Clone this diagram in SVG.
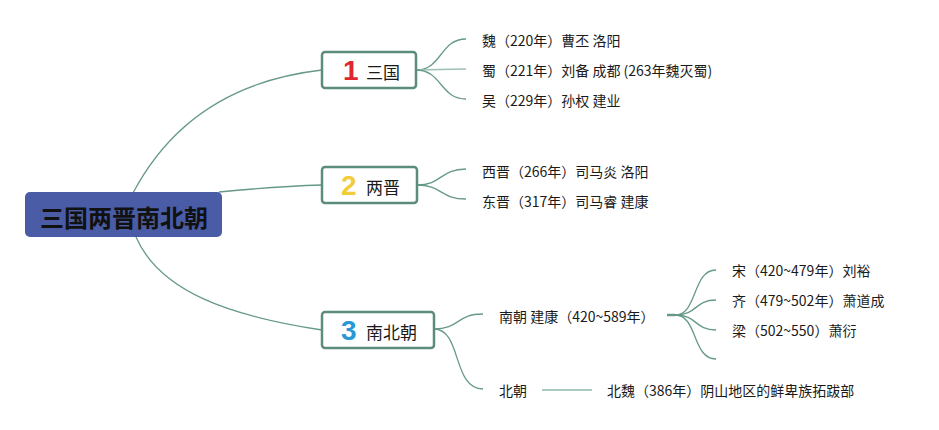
<svg xmlns="http://www.w3.org/2000/svg" width="939" height="430" viewBox="0 0 939 430">
<style>
.c{fill:none;stroke:#66998a;stroke-width:1.3}
.box{fill:#fff;stroke:#5b8c7c;stroke-width:2.5}
.t{font-family:"Noto Sans CJK SC","Microsoft YaHei",sans-serif;font-size:14px;fill:#1a1a1a;dominant-baseline:central}
.bt{font-family:"Noto Sans CJK SC",sans-serif;font-size:17px;fill:#1a1a1a;dominant-baseline:central}
.num{font-family:"Liberation Sans",Arial,sans-serif;font-weight:bold;font-size:28px;dominant-baseline:central}
</style>
<rect width="939" height="430" fill="#fff"/>
<g id="connectors">
<path class="c" d="M133,193 Q190,85 322,70"/>
<path class="c" d="M219,192 C260,188 290,186 322,185"/>
<path class="c" d="M136,237 C160,292 230,316 322,330"/>
<path class="c" d="M416,70 C442,70 440,39 466,39"/>
<path class="c" d="M416,70 L466,69" style="stroke:#9cc1b3"/>
<path class="c" d="M416,70 C442,70 440,99 466,99"/>
<path class="c" d="M417,185 C442,185 440,169 466,169"/>
<path class="c" d="M417,185 C442,185 440,199 466,199"/>
<path class="c" d="M434,329 C460,329 456,314 483,314"/>
<path class="c" d="M434,329 C462,329 452,389 483,389"/>
<path class="c" d="M667,315 L675,315" style="stroke-width:2.5"/>
<path class="c" d="M675,315 C698,315 692,270 716,270"/>
<path class="c" d="M675,315 C698,315 694,300 716,300"/>
<path class="c" d="M675,315 C698,315 694,330 716,330"/>
<path class="c" d="M675,315 C698,315 692,359 716,359"/>
<path class="c" d="M542,390 L592,390" style="stroke:#8fb8a8"/>
</g>
<g id="root">
<rect x="25" y="192" width="197" height="45" rx="5" fill="#4a5ca6"/>
<text x="124" y="216" text-anchor="middle" style="font-family:'Noto Sans CJK SC',sans-serif;font-weight:bold;font-size:24px;fill:#111;dominant-baseline:central">三国两晋南北朝</text>
</g>
<g id="n1">
<rect class="box" x="322" y="52" width="94" height="36" rx="3"/>
<text class="num" x="343" y="70" fill="#e0262f">1</text>
<text class="bt" x="366" y="71">三国</text>
</g>
<g id="n2">
<rect class="box" x="322" y="167" width="95" height="36" rx="3"/>
<text class="num" x="341" y="185" fill="#f2cc3a">2</text>
<text class="bt" x="366" y="186">两晋</text>
</g>
<g id="n3">
<rect class="box" x="322" y="312" width="112" height="36" rx="3"/>
<text class="num" x="341" y="330" fill="#2a98d8">3</text>
<text class="bt" x="366" y="331">南北朝</text>
</g>
<g id="l1"><text class="t" x="482" y="40">魏（220年）曹丕 洛阳</text></g>
<g id="l2"><text class="t" x="482" y="70">蜀（221年）刘备 成都 (263年魏灭蜀)</text></g>
<g id="l3"><text class="t" x="482" y="100">吴（229年）孙权 建业</text></g>
<g id="l4"><text class="t" x="482" y="171">西晋（266年）司马炎 洛阳</text></g>
<g id="l5"><text class="t" x="482" y="201">东晋（317年）司马睿 建康</text></g>
<g id="nanchao"><text class="t" x="499" y="316">南朝 建康（420~589年）</text></g>
<g id="song"><text class="t" x="732" y="270">宋（420~479年）刘裕</text></g>
<g id="qi"><text class="t" x="732" y="300">齐（479~502年）萧道成</text></g>
<g id="liang"><text class="t" x="732" y="330">梁（502~550）萧衍</text></g>
<g id="beichao"><text class="t" x="499" y="390">北朝</text></g>
<g id="beiwei"><text class="t" x="607" y="390">北魏（386年）阴山地区的鲜卑族拓跋部</text></g>
</svg>
